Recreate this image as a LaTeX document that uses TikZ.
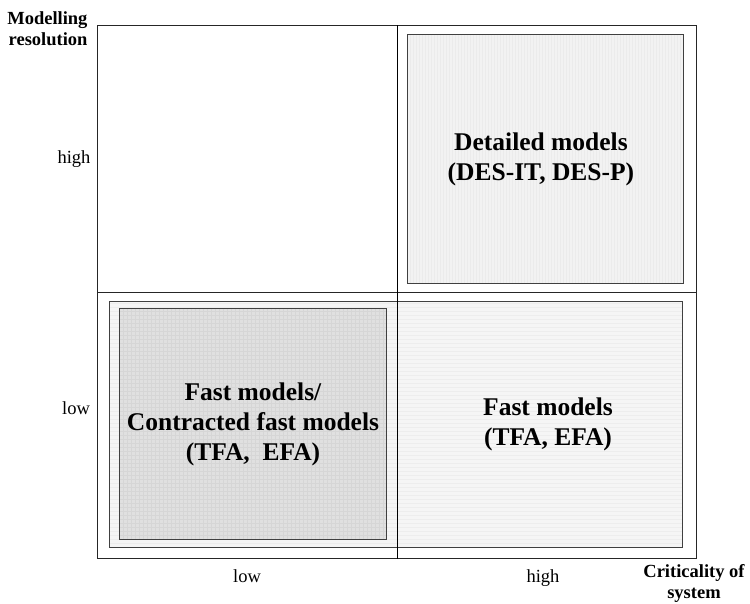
\documentclass[tikz,border=0pt]{standalone}
\usepackage{fontspec}
\setmainfont{Liberation Serif}
\begin{document}
\begin{tikzpicture}[x=1pt,y=-1pt,
  frame/.style={draw=black!85,line width=1.3pt,inner sep=0pt,anchor=north west},
  boxx/.style={draw=black!75,line width=0.9pt,inner sep=0pt,anchor=north west},
  big/.style={align=center,font=\fontsize{25.5}{30}\selectfont\bfseries},
  small/.style={font=\fontsize{18.5}{22}\selectfont,anchor=base},
  axis/.style={align=center,font=\fontsize{18.5}{21}\selectfont\bfseries},
  hatchv/.style={path picture={\foreach \i in {0,3,...,300}
     \draw[black!8,line width=0.5pt] ([xshift=\i pt]path picture bounding box.south west) -- ([xshift=\i pt]path picture bounding box.north west);}},
  hatchh/.style={path picture={\foreach \i in {0,4,...,260}
     \draw[black!7,line width=0.4pt] ([yshift=\i pt]path picture bounding box.south west) -- ([yshift=\i pt]path picture bounding box.south east);}},
  hatchg/.style={path picture={\foreach \i in {0,4,...,280}
     {\draw[black!16,line width=0.4pt] ([xshift=\i pt]path picture bounding box.south west) -- ([xshift=\i pt]path picture bounding box.north west);
      \draw[black!16,line width=0.4pt] ([yshift=\i pt]path picture bounding box.south west) -- ([yshift=\i pt]path picture bounding box.south east);}}}
]
\useasboundingbox (0,0) rectangle (750,603);
% outer frame
\node[frame,minimum width=599pt,minimum height=533pt] (outer) at (97,25) {};
% quadrant boxes
\node[boxx,fill=black!5,hatchv,minimum width=276pt,minimum height=249pt] (tr) at (407,34) {};
\node[boxx,fill=black!4,hatchh,minimum width=573pt,minimum height=246pt] (low) at (109,301) {};
\node[boxx,fill=black!12,hatchg,minimum width=267pt,minimum height=231pt] (bl) at (119,308) {};
% dividing lines
\draw[black!85,line width=0.9pt] (outer.west) -- (outer.east);
\draw[black,line width=0.9pt] (outer.north) -- (outer.south);
% texts
\node[big] (trt) at (541,159) {Detailed models\\(DES-IT, DES-P)};
\node[big] (blt) at (253,424) {Fast models/\\Contracted fast models\\(TFA,\ \ EFA)};
\node[big] (brt) at (548,424) {Fast models\\(TFA, EFA)};
% axis labels
\node[axis,align=right,anchor=east] (ylab) at (91,29) {Modelling\\resolution};
\node[axis] (xlab) at (694,583) {Criticality of\\system};
\node[small] (yhigh) at (74,163) {high};
\node[small] (ylow) at (76,414) {low};
\node[small] (xlow) at (247,582) {low};
\node[small] (xhigh) at (543,582) {high};
\end{tikzpicture}
\end{document}
